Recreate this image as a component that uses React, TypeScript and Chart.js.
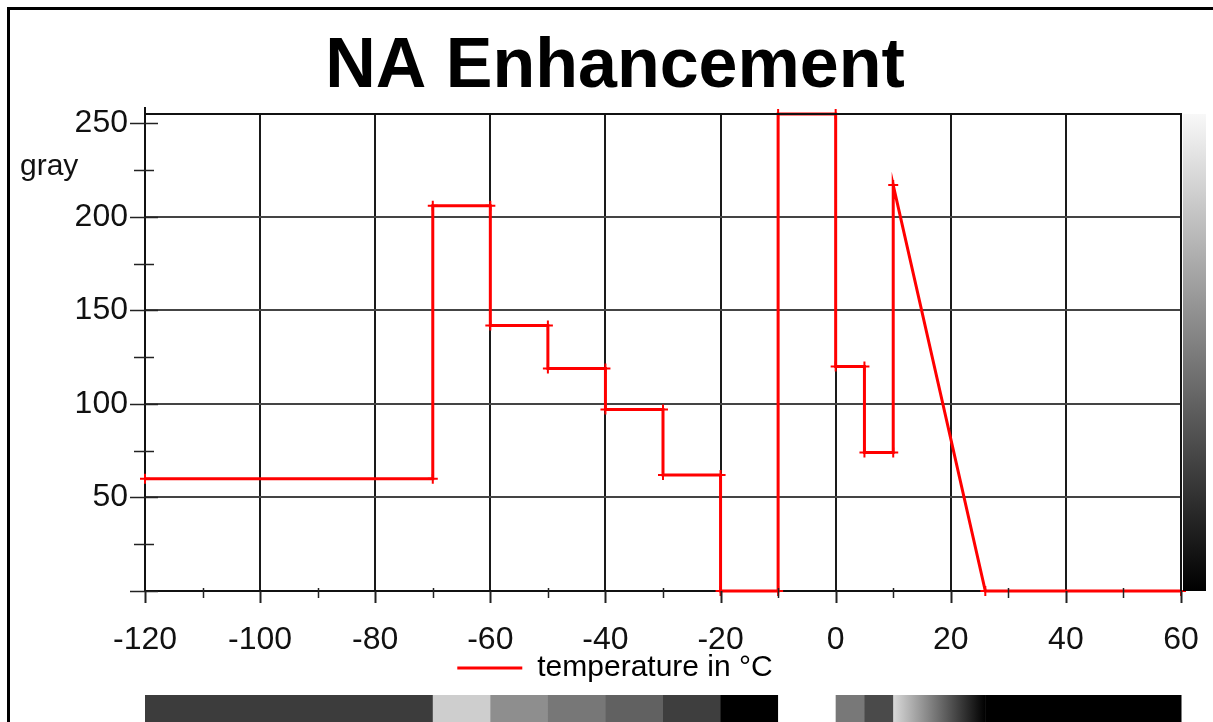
import React, { useEffect, useRef } from 'react';
import { Chart, registerables } from 'chart.js';

Chart.register(...registerables);

// Gray-level lookup curve: temperature (°C) -> output gray value (0..255)
const temperatures = [-120, -70, -70, -60, -60, -50, -50, -40, -40, -30, -30, -20, -20, -10, -10, 0, 0, 5, 5, 10, 10, 26, 60];
const grayValues = [60, 60, 206, 206, 142, 142, 119, 119, 97, 97, 62, 62, 0, 0, 255, 255, 120, 120, 74, 74, 217, 0, 0];

// Axis ticks (all tick positions) and the ones that carry a label / gridline
const xTicks = [-120, -110, -100, -90, -80, -70, -60, -50, -40, -30, -20, -10, 0, 10, 20, 30, 40, 50, 60];
const xTickLabels = [-120, -100, -80, -60, -40, -20, 0, 20, 40, 60];
const yTicks = [0, 25, 50, 75, 100, 125, 150, 175, 200, 225, 250];
const yTickLabels = [50, 100, 150, 200, 250];
const yGridLines = [50, 100, 150, 200];

const X_MIN = -120;
const X_MAX = 60;
const Y_MIN = 0;
const Y_MAX = 255;

const titleText = 'NA Enhancement';
const yAxisLabel = 'gray';
const legendLabel = 'temperature in °C';

const FONT = "'Liberation Sans', Arial, Helvetica, sans-serif";
const RED = '#ff0000';

const grayCss = (v: number) => `rgb(${v},${v},${v})`;

// Tick marks, plot frame, axis caption and the two gray-scale strips
const decorPlugin = {
  id: 'decor',
  afterDatasetsDraw(chart: any) {
    const { ctx, chartArea: a, scales } = chart;
    const x = scales.x;
    const y = scales.y;
    const axisX = a.left;
    const axisY = a.bottom;
    ctx.save();

    // frame: top and right edge of the plot
    ctx.strokeStyle = '#111';
    ctx.lineWidth = 2;
    ctx.beginPath();
    ctx.moveTo(a.left, a.top);
    ctx.lineTo(a.right, a.top);
    ctx.lineTo(a.right, a.bottom);
    ctx.stroke();

    // y axis line slightly past the top of the plot
    ctx.beginPath();
    ctx.moveTo(axisX, a.top - 7);
    ctx.lineTo(axisX, a.top);
    ctx.stroke();

    // y tick marks
    ctx.lineWidth = 1.5;
    ctx.strokeStyle = '#222';
    for (const v of yTicks) {
      const py = Math.round(y.getPixelForValue(v)) + 0.5;
      const major = v % 50 === 0;
      ctx.beginPath();
      ctx.moveTo(axisX - (major ? 15 : 11), py);
      ctx.lineTo(axisX + (major ? 13 : 9), py);
      ctx.stroke();
    }

    // x tick marks
    for (const v of xTicks) {
      const px = Math.round(x.getPixelForValue(v)) + 0.5;
      const major = v % 20 === 0;
      ctx.lineWidth = major ? 2 : 1.5;
      ctx.beginPath();
      ctx.moveTo(px, axisY - (major ? 0 : 3));
      ctx.lineTo(px, axisY + (major ? 12 : 7));
      ctx.stroke();
    }

    // axis caption
    ctx.fillStyle = '#111';
    ctx.font = `30px ${FONT}`;
    ctx.textAlign = 'left';
    ctx.textBaseline = 'alphabetic';
    ctx.fillText(yAxisLabel, 20, a.top + 61);

    // vertical gray ramp beside the plot (value axis)
    const top = y.getPixelForValue(Y_MAX);
    const bottom = y.getPixelForValue(Y_MIN);
    const ramp = ctx.createLinearGradient(0, top, 0, bottom);
    ramp.addColorStop(0, grayCss(248));
    ramp.addColorStop(1, grayCss(0));
    ctx.fillStyle = ramp;
    ctx.fillRect(a.right + 2, top, 23, bottom - top);

    // horizontal strip: gray output along the temperature axis
    const barTop = a.bottom + 104;
    const barH = 40;
    for (let i = 0; i < temperatures.length - 1; i++) {
      const t0 = temperatures[i];
      const t1 = temperatures[i + 1];
      if (t1 <= t0) continue;
      const x0 = x.getPixelForValue(t0);
      const x1 = x.getPixelForValue(t1);
      const g = ctx.createLinearGradient(x0, 0, x1, 0);
      g.addColorStop(0, grayCss(grayValues[i]));
      g.addColorStop(1, grayCss(grayValues[i + 1]));
      ctx.fillStyle = g;
      ctx.fillRect(x0, barTop, x1 - x0 + 0.5, barH);
    }

    ctx.restore();
  },
};

export default function App() {
  const canvasRef = useRef<HTMLCanvasElement | null>(null);

  useEffect(() => {
    const canvas = canvasRef.current;
    if (!canvas) return;
    const points = temperatures.map((t, i) => ({ x: t, y: grayValues[i] }));

    const chart = new Chart(canvas, {
      type: 'scatter',
      data: {
        datasets: [
          {
            label: legendLabel,
            data: points,
            showLine: true,
            borderColor: RED,
            backgroundColor: RED,
            borderWidth: 3,
            tension: 0,
            pointStyle: 'cross',
            pointRadius: 5,
            pointBorderWidth: 2,
            pointBorderColor: RED,
            clip: false,
          } as any,
        ],
      },
      options: {
        responsive: false,
        animation: false,
        devicePixelRatio: 1,
        events: [],
        layout: { padding: { top: 0, left: 49, right: 32, bottom: 29 } },
        plugins: {
          tooltip: { enabled: false },
          title: {
            display: true,
            text: titleText,
            color: '#000',
            font: { family: FONT, size: 70, weight: 'bold', lineHeight: 1.2 },
            padding: { top: 26, bottom: 4 },
          },
          legend: {
            display: true,
            position: 'bottom',
            labels: {
              color: '#111',
              font: { family: FONT, size: 30, lineHeight: 1 },
              boxWidth: 65,
              boxHeight: 3,
              padding: 0,
              generateLabels: () => [
                {
                  text: legendLabel,
                  fillStyle: RED,
                  strokeStyle: RED,
                  lineWidth: 0,
                  hidden: false,
                  datasetIndex: 0,
                } as any,
              ],
            },
          },
        },
        scales: {
          x: {
            type: 'linear',
            min: X_MIN,
            max: X_MAX,
            afterBuildTicks: (scale: any) => {
              scale.ticks = xTicks.map((v) => ({ value: v }));
            },
            afterFit: (scale: any) => {
              scale.height = 62;
              scale.paddingLeft = 0;
              scale.paddingRight = 0;
            },
            ticks: {
              autoSkip: false,
              maxRotation: 0,
              minRotation: 0,
              padding: 36,
              color: '#111',
              font: { family: FONT, size: 32, lineHeight: 0.8 },
              callback: (v: any) => (xTickLabels.includes(Number(v)) ? String(v) : ''),
            },
            grid: {
              drawTicks: false,
              lineWidth: 2,
              color: (c: any) => (c.tick && c.tick.value % 20 === 0 ? '#1a1a1a' : 'rgba(0,0,0,0)'),
            },
            border: { display: true, color: '#111', width: 2 },
          },
          y: {
            type: 'linear',
            min: Y_MIN,
            max: Y_MAX,
            afterBuildTicks: (scale: any) => {
              scale.ticks = yTicks.map((v) => ({ value: v }));
            },
            afterFit: (scale: any) => {
              scale.width = 96;
            },
            ticks: {
              autoSkip: false,
              padding: 17,
              color: '#111',
              font: { family: FONT, size: 32, lineHeight: 1.2 },
              callback: (v: any) => (yTickLabels.includes(Number(v)) ? String(v) : ''),
            },
            grid: {
              drawTicks: false,
              lineWidth: 2,
              color: (c: any) => (c.tick && yGridLines.includes(c.tick.value) ? '#444' : 'rgba(0,0,0,0)'),
            },
            border: { display: true, color: '#111', width: 2 },
          },
        },
      },
      plugins: [decorPlugin],
    });

    return () => chart.destroy();
  }, []);

  return (
    <div
      style={{
        position: 'absolute',
        left: 0,
        top: 0,
        width: 1213,
        height: 722,
        overflow: 'hidden',
        background: '#fff',
      }}
    >
      <canvas ref={canvasRef} width={1213} height={722} style={{ display: 'block' }} />
      <div
        style={{
          position: 'absolute',
          left: 7,
          top: 7,
          width: 1300,
          height: 800,
          borderTop: '3px solid #000',
          borderLeft: '3px solid #000',
          pointerEvents: 'none',
        }}
      />
    </div>
  );
}
